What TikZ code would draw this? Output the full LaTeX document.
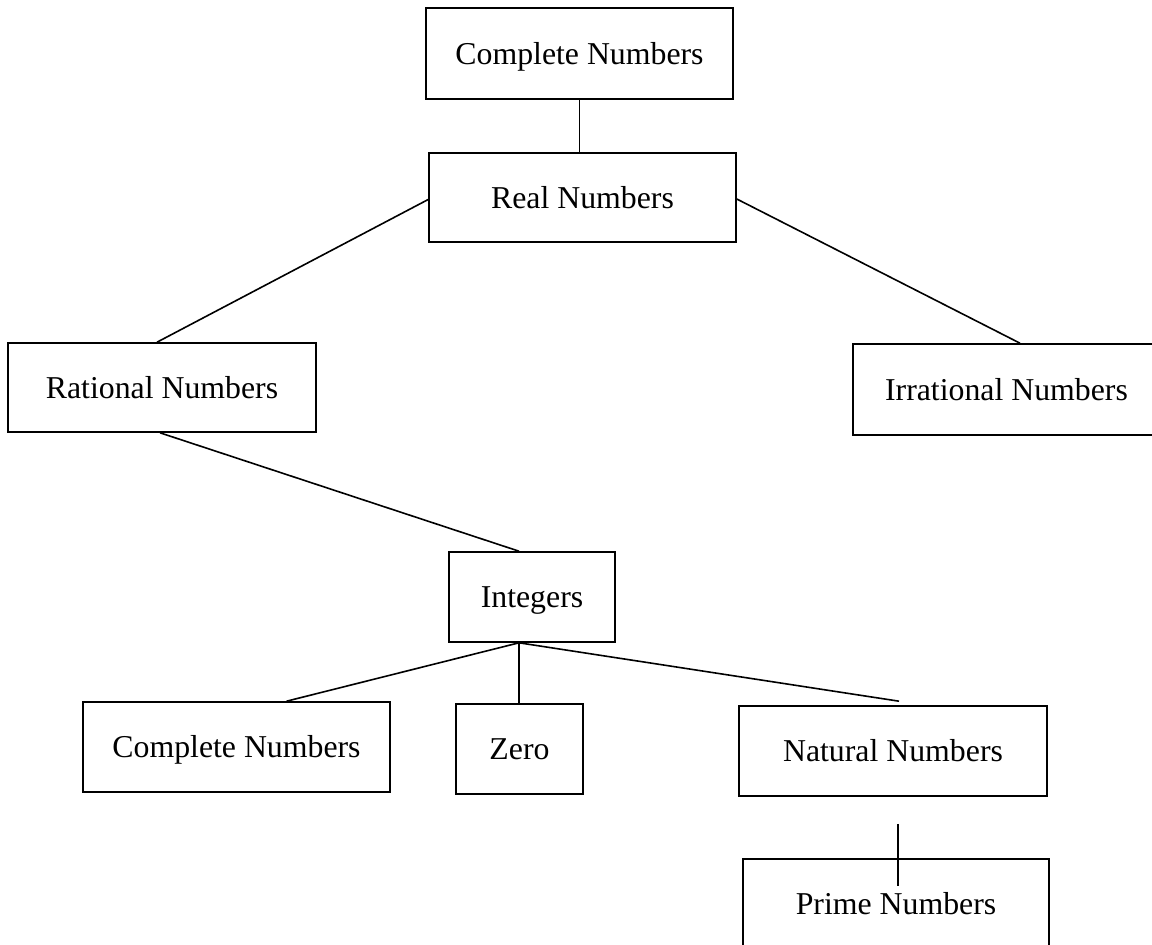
\documentclass[tikz,border=0pt]{standalone}
\usepackage{fontspec}
\setmainfont{Liberation Serif}
\begin{document}
\begin{tikzpicture}[x=1pt,y=-1pt,
  box/.style={draw, line width=1.6pt, inner sep=0pt, align=center,
    font=\fontsize{31.8pt}{36pt}\selectfont, text height=21pt, text depth=0pt},
  link/.style={line width=1.6pt}]
\useasboundingbox (0,0) rectangle (1152,945);
% number classes
\node[box, minimum width=307pt, minimum height=91pt] (c1) at (579.5,53.5) {Complete Numbers};
\node[box, minimum width=307pt, minimum height=89pt] (real) at (582.5,197.5) {Real Numbers};
\node[box, minimum width=308pt, minimum height=89pt] (rat) at (162,387.5) {Rational Numbers};
\node[box, minimum width=307pt, minimum height=91pt] (irr) at (1006.5,389.5) {Irrational Numbers};
\node[box, minimum width=166pt, minimum height=90pt] (int) at (532,597) {Integers};
\node[box, minimum width=307pt, minimum height=90pt] (cb) at (236.5,747) {Complete Numbers};
\node[box, minimum width=127pt, minimum height=90pt] (zero) at (519.5,749) {Zero};
\node[box, minimum width=308pt, minimum height=90pt] (nat) at (893,751) {Natural Numbers};
\node[box, minimum width=306pt, minimum height=90pt] (prime) at (896,904) {Prime Numbers};
% connectors
\coordinate (ib) at ([xshift=-13pt]int.south);
\draw[link] (c1.south) -- (c1.south |- real.north);
\draw[link] ([yshift=-2pt]real.west) -- ([xshift=-5pt]rat.north);
\draw[link] ([yshift=-1.5pt]real.east) -- ([xshift=13.5pt]irr.north);
\draw[link] ([xshift=-2pt]rat.south) -- ([xshift=-13pt]int.north);
\draw[link] (ib) -- ([xshift=50pt]cb.north);
\draw[link] (ib) -- (ib |- zero.north);
\draw[link] (ib) -- ([xshift=6pt,yshift=4pt]nat.north);
\draw[link] ([xshift=5pt,yshift=-27pt]nat.south) -- ([xshift=5pt,yshift=-28pt]nat.south |- prime.north);
\end{tikzpicture}
\end{document}
